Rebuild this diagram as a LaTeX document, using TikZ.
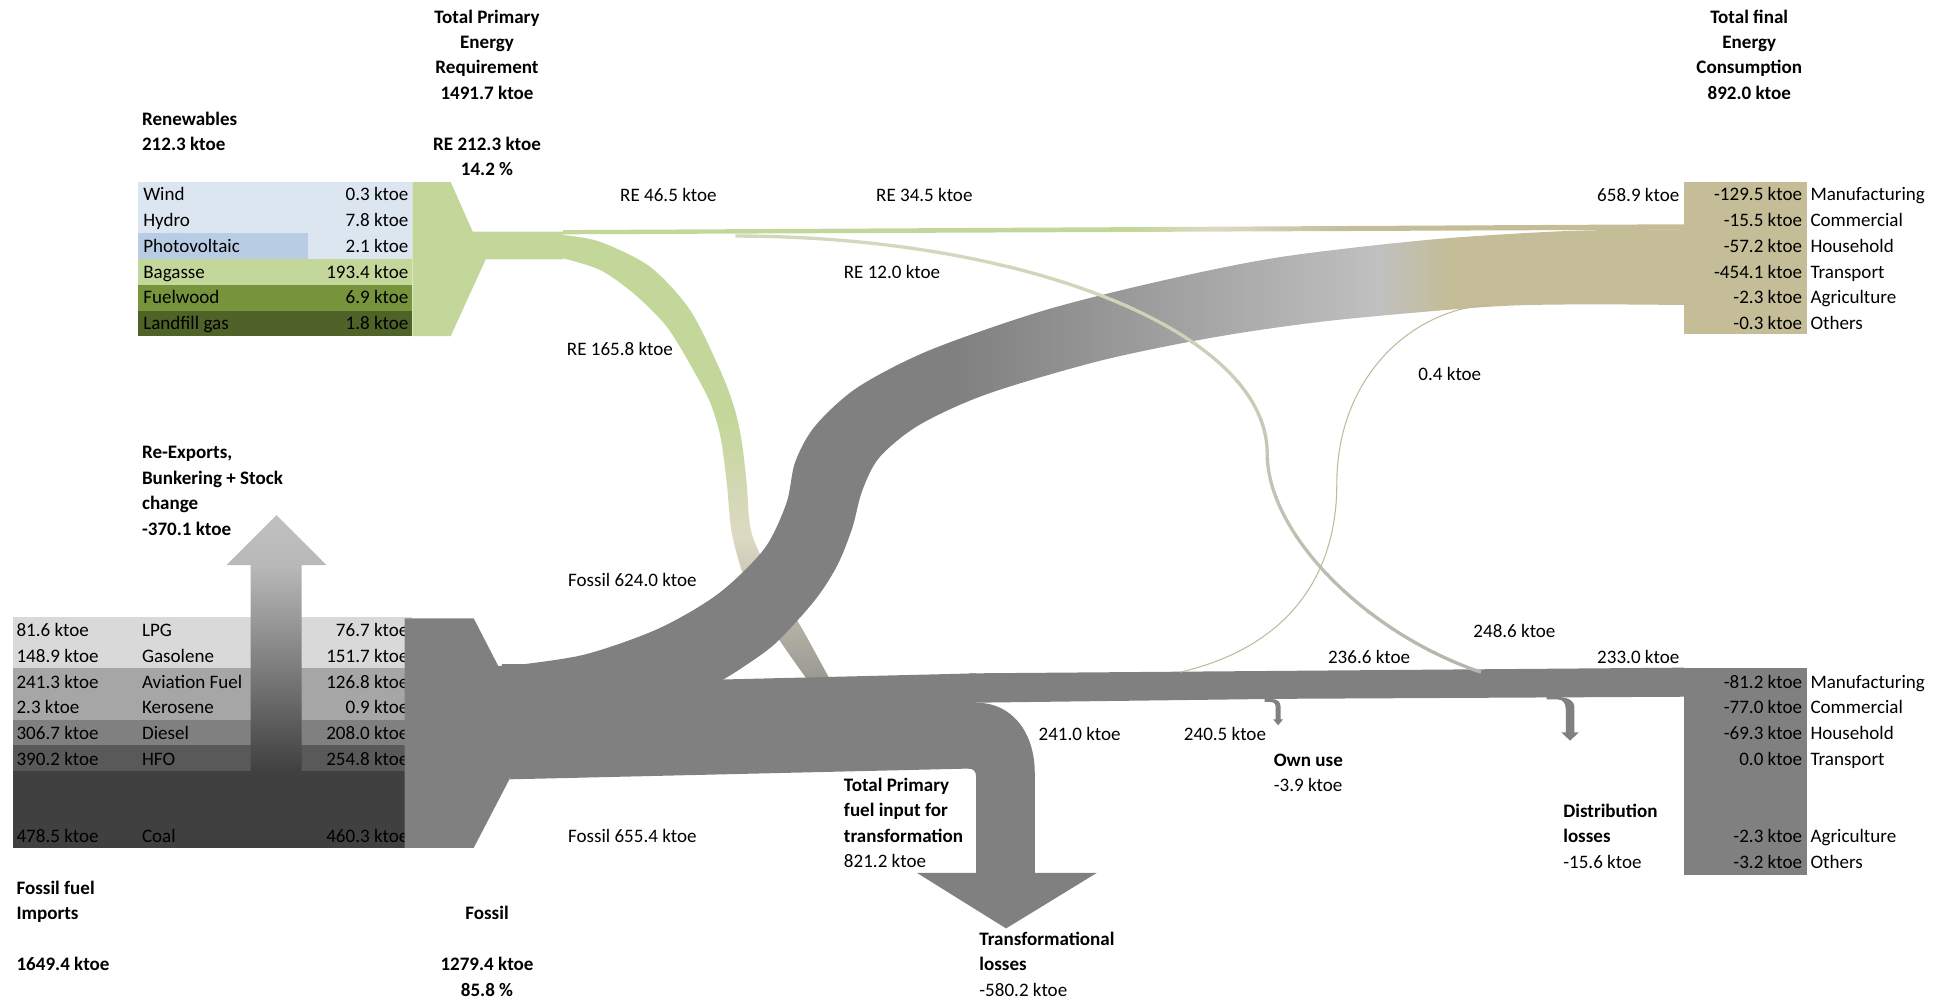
\documentclass[tikz,border=0pt]{standalone}
\usepackage{fontspec}
\setmainfont{Carlito}
\newcommand\fs{\fontsize{9.2pt}{11pt}\selectfont}
\definecolor{lblue}{HTML}{DCE6F1}
\definecolor{pvblue}{HTML}{B8CCE4}
\definecolor{regreen}{HTML}{C4D79B}
\definecolor{fwgreen}{HTML}{77933C}
\definecolor{lfgreen}{HTML}{4F6228}
\definecolor{tanc}{HTML}{C4BD97}
\definecolor{fgray}{HTML}{808080}
\definecolor{lgray}{HTML}{C0C0C0}
\definecolor{pale}{HTML}{DDD9C4}
\definecolor{rowa}{HTML}{D9D9D9}
\definecolor{rowb}{HTML}{A6A6A6}
\definecolor{rowc}{HTML}{808080}
\definecolor{rowd}{HTML}{595959}
\definecolor{rowe}{HTML}{404040}
\definecolor{tailgray}{HTML}{9A9A92}
\definecolor{rxmid}{HTML}{B8B8B8}
\definecolor{reone}{HTML}{D3D8BC}
\definecolor{retwo}{HTML}{B6B6AE}
\definecolor{smalltan}{HTML}{BFB99C}
\pgfdeclarehorizontalshading{fossilarc}{100bp}{color(0bp)=(fgray); color(44bp)=(fgray); color(62bp)=(lgray); color(65bp)=(tanc); color(100bp)=(tanc)}
\pgfdeclarehorizontalshading{restrip}{100bp}{color(0bp)=(regreen); color(50.6bp)=(regreen); color(54bp)=(pale); color(60bp)=(tanc); color(100bp)=(tanc)}
\pgfdeclareverticalshading{rearc}{100bp}{color(0bp)=(tailgray); color(25bp)=(tailgray); color(41bp)=(pale); color(54bp)=(regreen); color(100bp)=(regreen)}
\pgfdeclareverticalshading{reexp}{100bp}{color(0bp)=(rowe); color(25bp)=(rowe); color(65bp)=(rxmid); color(75bp)=(lgray); color(100bp)=(lgray)}
\begin{document}
\begin{tikzpicture}[x=0.6pt,y=-0.6pt,
  txt/.style={inner sep=0pt,font=\fs},
  bt/.style={inner sep=0pt,font=\fs\bfseries},
  flowgray/.style={fill=fgray}]
\useasboundingbox (0,0) rectangle (1568,807);

% ---------- renewables table ----------
\fill[lblue] (111,146.5) rectangle (332,187.9);
\fill[pvblue] (111,187.9) rectangle (248,208.6);
\fill[lblue] (248,187.9) rectangle (332,208.6);
\fill[regreen] (111,208.6) rectangle (332,229.3);
\fill[fwgreen] (111,229.3) rectangle (332,250);
\fill[lfgreen] (111,250) rectangle (332,270.7);
\foreach \nm/\val [count=\i] in {Wind/0.3, Hydro/7.8, Photovoltaic/2.1, Bagasse/193.4, Fuelwood/6.9, Landfill gas/1.8}{
  \node[txt,anchor=base west] (rn\i) at ({115},{141.1+20.67*\i}) {\nm};
  \node[txt,anchor=base east] (rv\i) at ({329},{141.1+20.67*\i}) {\val\ ktoe};
}

% ---------- fossil table ----------
\fill[rowa] (10.8,496.4) rectangle (332,537.8);
\fill[rowb] (10.8,537.8) rectangle (332,579.3);
\fill[rowc] (10.8,579.3) rectangle (332,600);
\fill[rowd] (10.8,600) rectangle (332,620.7);
\fill[rowe] (10.8,620.7) rectangle (332,682.9);
\foreach \a/\nm/\b [count=\i] in {81.6/LPG/76.7, 148.9/Gasolene/151.7, 241.3/Aviation Fuel/126.8, 2.3/Kerosene/0.9, 306.7/Diesel/208.0, 390.2/HFO/254.8}{
  \node[txt,anchor=base west] (fa\i) at ({13},{491.8+20.72*\i}) {\a\ ktoe};
  \node[txt,anchor=base west] (fn\i) at ({114},{491.8+20.72*\i}) {\nm};
  \node[txt,anchor=base east] (fb\i) at ({329},{491.8+20.72*\i}) {\b\ ktoe};
}
\node[txt,anchor=base west] (fa7) at (13,678) {478.5 ktoe};
\node[txt,anchor=base west] (fn7) at (114,678) {Coal};
\node[txt,anchor=base east] (fb7) at (329,678) {460.3 ktoe};

% re-export arrow
\shade[shading=reexp] (201.8,620.4) -- (201.8,454.8) -- (182.4,454.8) -- (222.5,414.6) -- (262.8,454.8) -- (242.8,454.8) -- (242.8,620.4) -- cycle;

% ---------- green funnel ----------
\fill[regreen] (332,146.5) -- (362.8,146.5) -- (380.5,186.5) -- (453.5,186.5) -- (453.5,208.7) -- (391,208.7) -- (362.8,270.5) -- (332,270.5) -- cycle;

% RE 165.8 arc
\shade[shading=rearc] plot[smooth] coordinates {(453.5,189.2) (483,194.6) (523.2,214.7) (555.4,249.5) (579.6,297.8) (591,328) (597,355) (601,389) (605,429) (623.5,469.5) (645,505) (667.5,546)}
  -- plot[smooth] coordinates {(649,546) (632.7,523) (612,492) (599,465) (589,429) (585,389) (580,352) (572,325) (558,297.8) (536.7,263) (509.8,236) (483,217.3) (453.5,208)} -- cycle;

% ---------- fossil flows ----------
\fill[flowgray] (325.6,497.7) -- (381.3,497.7) -- (401,536) -- (410,536) -- (410,627.3) -- (381.3,682.5) -- (325.6,682.5) -- cycle;
\fill[flowgray] (404,534.5) -- (480,535) -- (579,547) -- (785.6,542) -- (785.6,618.5) -- (410,627.3) -- cycle;
\fill[flowgray] (780,542) -- (1355.6,537.4) -- (1355.6,560.8) -- (1030,562.5) -- (785.6,565.6) -- (780,565.6) -- cycle;
\fill[flowgray] (778,565.6) -- (785.7,565.6) .. controls (815,565.6) and (832.9,590) .. (832.9,622) -- (832.9,702.5) -- (883,702.5) -- (809.8,747.3) -- (737.9,702.5) -- (785.7,702.5) -- (785.7,625) .. controls (785.7,621) and (783.5,618.5) .. (779,618.5) -- cycle;
% own use arrow
\fill[flowgray] (1018,560) -- (1020,562.7) -- (1024,562.7) .. controls (1028.5,562.7) and (1030.8,565) .. (1030.8,569) -- (1030.8,579) -- (1032.8,579) -- (1028.8,583.8) -- (1024.8,579) -- (1026.8,579) -- (1026.8,569) .. controls (1026.8,566) and (1025,565) .. (1022,565) -- (1018,565) -- cycle;
% distribution losses arrow
\fill[flowgray] (1245,558) -- (1250,560.8) .. controls (1262,560.8) and (1267.3,563.5) .. (1267.3,570) -- (1267.3,589.5) -- (1270.8,589.5) -- (1263.8,596.2) -- (1256.8,589.5) -- (1260.3,589.5) -- (1260.3,571) .. controls (1260.3,566) and (1258,563) .. (1254,563) -- (1245,563) -- cycle;
% gray consumption box
\fill[flowgray] (1355.6,537.4) rectangle (1454.3,704.3);

% Fossil 624.0 arc
\shade[shading=fossilarc] plot[smooth] coordinates {(410,536) (470,527) (530,506) (578,478) (615,442) (633,405) (640,372) (656,343) (690,312) (748,282) (840,250) (935,226) (1030,207) (1150,193) (1260,186) (1355.6,184.5)}
  -- plot[smooth] coordinates {(1355.6,245.5) (1270,245) (1197,247) (1072,258) (980,271) (887,290) (795,317) (740,342) (708,368) (694,395) (686,425) (674,455) (656,483) (624,518) (595,539) (579,548.7)} -- cycle;

% RE strip and tan box
\shade[shading=restrip] (453.5,185.2) -- (1355.6,180.5) -- (1355.6,184.8) -- (453.5,188.6) -- cycle;
\fill[tanc] (1355.6,146.5) rectangle (1454.3,269);

% thin flows
\coordinate (re12a) at (592,190);
\coordinate (re12b) at (1020,365);
\coordinate (re12c) at (1192,541);
\foreach \k in {0,...,11}{
  \pgfmathsetmacro\pct{100-100*\k/11}
  \begin{scope}
    \clip (0,{183+31*\k}) rectangle (1568,{214.5+31*\k});
    \draw[reone!\pct!retwo,line width=1.6pt] (re12a) .. controls (828,190) and (1020,268) .. (re12b) .. controls (1020,430) and (1100,510) .. (re12c);
  \end{scope}
}
\coordinate (s4a) at (950,541);
\coordinate (s4b) at (1076,390);
\coordinate (s4c) at (1199,245.5);
\draw[smalltan,line width=0.5pt] (s4a) .. controls (1040,520) and (1076,460) .. (s4b) .. controls (1076,300) and (1140,248) .. (s4c);

% ---------- consumption box texts ----------
\foreach \v/\nm [count=\i] in {-129.5/Manufacturing, -15.5/Commercial, -57.2/Household, -454.1/Transport, -2.3/Agriculture, -0.3/Others}{
  \node[txt,anchor=base east] (tv\i) at ({1450.8},{141.1+20.67*\i}) {\v\ ktoe};
  \node[txt,anchor=base west] (tn\i) at ({1457},{141.1+20.67*\i}) {\nm};
}
\foreach \v/\nm/\yy [count=\i] in {-81.2/Manufacturing/554, -77.0/Commercial/574.7, -69.3/Household/595.4, 0.0/Transport/616.1, -2.3/Agriculture/678.3, -3.2/Others/699}{
  \node[txt,anchor=base east] (gv\i) at ({1450.8},{\yy}) {\v\ ktoe};
  \node[txt,anchor=base west] (gn\i) at ({1457},{\yy}) {\nm};
}

% ---------- titles ----------
\node[bt,anchor=base] (tp1) at (392,19) {Total Primary};
\node[bt,anchor=base] (tp2) at (392,39) {Energy};
\node[bt,anchor=base] (tp3) at (392,59) {Requirement};
\node[bt,anchor=base] (tp4) at (392,80) {1491.7 ktoe};
\node[bt,anchor=base] (tp5) at (392,121) {RE 212.3 ktoe};
\node[bt,anchor=base] (tp6) at (392,141) {14.2 \%};
\node[bt,anchor=base west] (rw1) at (114,101) {Renewables};
\node[bt,anchor=base west] (rw2) at (114,121) {212.3 ktoe};
\node[bt,anchor=base] (tf1) at (1408,19) {Total final};
\node[bt,anchor=base] (tf2) at (1408,39) {Energy};
\node[bt,anchor=base] (tf3) at (1408,59) {Consumption};
\node[bt,anchor=base] (tf4) at (1408,80) {892.0 ktoe};
\node[bt,anchor=base west] (rx1) at (114,369) {Re-Exports,};
\node[bt,anchor=base west] (rx2) at (114,390) {Bunkering + Stock};
\node[bt,anchor=base west] (rx3) at (114,410) {change};
\node[bt,anchor=base west] (rx4) at (114,431) {-370.1 ktoe};
\node[bt,anchor=base west] (fi1) at (13,720) {Fossil fuel};
\node[bt,anchor=base west] (fi2) at (13,740) {Imports};
\node[bt,anchor=base west] (fi3) at (13,781) {1649.4 ktoe};
\node[bt,anchor=base] (fo1) at (392,740) {Fossil};
\node[bt,anchor=base] (fo2) at (392,781) {1279.4 ktoe};
\node[bt,anchor=base] (fo3) at (392,802) {85.8 \%};
\node[bt,anchor=base west] (pf1) at (679,637) {Total Primary};
\node[bt,anchor=base west] (pf2) at (679,657) {fuel input for};
\node[bt,anchor=base west] (pf3) at (679,678) {transformation};
\node[txt,anchor=base west] (pf4) at (679,698) {821.2 ktoe};
\node[bt,anchor=base west] (tl1) at (788,761) {Transformational};
\node[bt,anchor=base west] (tl2) at (788,781) {losses};
\node[txt,anchor=base west] (tl3) at (788,802) {-580.2 ktoe};
\node[bt,anchor=base west] (ou1) at (1025,617) {Own use};
\node[txt,anchor=base west] (ou2) at (1025,637) {-3.9 ktoe};
\node[bt,anchor=base west] (dl1) at (1258,658) {Distribution};
\node[bt,anchor=base west] (dl2) at (1258,678) {losses};
\node[txt,anchor=base west] (dl3) at (1258,699) {-15.6 ktoe};

% ---------- flow labels ----------
\node[txt,anchor=base] (l1) at (538,162) {RE 46.5 ktoe};
\node[txt,anchor=base] (l2) at (744,162) {RE 34.5 ktoe};
\node[txt,anchor=base] (l3) at (718,224) {RE 12.0 ktoe};
\node[txt,anchor=base] (l4) at (499,286) {RE 165.8 ktoe};
\node[txt,anchor=base east] (l5) at (1352,162) {658.9 ktoe};
\node[txt,anchor=base] (l6) at (1167,306) {0.4 ktoe};
\node[txt,anchor=base] (l7) at (509,472) {Fossil 624.0 ktoe};
\node[txt,anchor=base] (l8) at (509,678) {Fossil 655.4 ktoe};
\node[txt,anchor=base] (l9) at (1219,513) {248.6 ktoe};
\node[txt,anchor=base] (l10) at (1102,534) {236.6 ktoe};
\node[txt,anchor=base east] (l11) at (1352,534) {233.0 ktoe};
\node[txt,anchor=base] (l12) at (869,596) {241.0 ktoe};
\node[txt,anchor=base] (l13) at (986,596) {240.5 ktoe};
\end{tikzpicture}
\end{document}
